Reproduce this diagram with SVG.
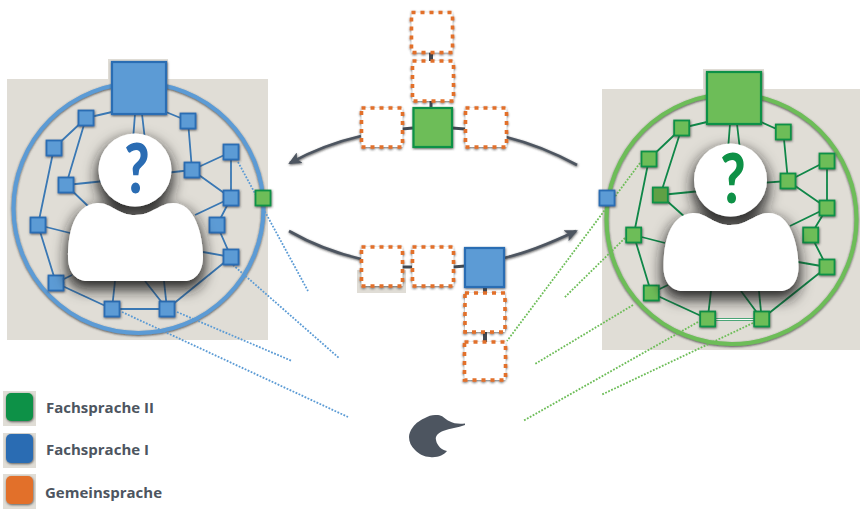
<svg xmlns="http://www.w3.org/2000/svg" width="860" height="509" viewBox="0 0 860 509">
<style>
.bg{fill:#e0ddd6}
.ringB{fill:none;stroke:#5b9bd5;stroke-width:4}
.ringG{fill:none;stroke:#6dbd58;stroke-width:4}
.eB{stroke:#3a78b4;stroke-width:1.8;fill:none}
.eG{stroke:#0f8748;stroke-width:1.8;fill:none}
.dB{stroke:#5b9bd5;stroke-width:1.8;stroke-dasharray:1.8 1.5;fill:none}
.dG{stroke:#6dbd58;stroke-width:1.8;stroke-dasharray:1.8 1.5;fill:none}
.arrow{stroke:#4d5560;stroke-width:2.6;fill:none;filter:url(#ns)}
.link{stroke:#424a54;stroke-width:3;fill:none}
.nB{fill:#5b9bd5;stroke:#2c6db3;stroke-width:1.8;filter:url(#ns)}
.nG{fill:#6dbd58;stroke:#0e9146;stroke-width:1.8;filter:url(#ns)}
.nD{fill:#5fa045;stroke:#0e9146;stroke-width:1.8;filter:url(#ns)}
.lB{fill:#5b9bd5;stroke:#2c6db3;stroke-width:2.2;filter:url(#ns)}
.lG{fill:#6dbd58;stroke:#0e9146;stroke-width:2.2;filter:url(#ns)}
.dash{fill:#fff;stroke:#e2702a;stroke-width:3.6;stroke-dasharray:4 5;filter:url(#ds)}
.person{fill:#fff;filter:url(#ps)}
.q{font-family:Lato,"Liberation Sans",sans-serif;font-weight:900;font-size:68px;text-anchor:middle}
.t{font-family:"Open Sans",sans-serif;font-weight:700;font-size:15px;fill:#4d5560}
</style>
<defs>
<filter id="ns" x="-40%" y="-40%" width="180%" height="180%"><feDropShadow dx="0.5" dy="1" stdDeviation="1" flood-color="#333" flood-opacity=".75"/></filter>
<filter id="ds" x="-40%" y="-40%" width="180%" height="180%"><feDropShadow dx="0" dy="1" stdDeviation="1" flood-color="#333" flood-opacity=".7"/></filter>
<filter id="ps" x="-30%" y="-30%" width="160%" height="160%">
<feMorphology in="SourceAlpha" operator="dilate" radius="2" result="d"/>
<feGaussianBlur in="d" stdDeviation="7" result="b"/>
<feOffset in="b" dy="7" result="o"/>
<feFlood flood-color="#1c1c1c" flood-opacity=".9"/>
<feComposite in2="o" operator="in" result="s"/>
<feMerge><feMergeNode in="s"/><feMergeNode in="SourceGraphic"/></feMerge>
</filter>
<filter id="rs" x="-5%" y="-5%" width="110%" height="110%"><feDropShadow dx="0" dy="1" stdDeviation="1" flood-color="#333" flood-opacity=".8"/></filter>
<marker id="ah" markerUnits="userSpaceOnUse" markerWidth="14" markerHeight="12" refX="11" refY="6" orient="auto"><path d="M0,0 L13,6 L0,12 L3,6 Z" fill="#4d5560"/></marker>
<path id="body" d="M68,257 C68,235 73,205 97,203 C110,202 118,215 135,215 C152,215 160,203 173,203 C195,203 203,235 203,257 C203,272 195,281 185,281 L87,281 C76,281 68,272 68,257 Z"/>
</defs>

<g id="backgrounds">
<rect class="bg" x="7" y="79" width="261" height="261"/>
<rect class="bg" x="108" y="59" width="60" height="22"/>
<rect class="bg" x="602" y="89" width="258" height="261"/>
<rect class="bg" x="703" y="69" width="61" height="22"/>
<rect class="bg" x="357" y="270" width="49" height="23"/>
<circle class="ringB" cx="138.500" cy="208" r="125" filter="url(#rs)"/>
<circle class="ringG" cx="731.500" cy="219" r="125" filter="url(#rs)"/>
</g>

<g id="connectors">
<g id="edges-left" class="eB">
<path d="M135,114 L133,140 M142,114 L145,140 M112,112 L86,118 M166,112 L188,121 M86,118 L54,148 M86,118 L66,185 M188,121 L192,170 M54,148 L38,225 M66,185 L105,181 M66,185 L90,208 M192,170 L165,173 M192,170 L231,152 M192,170 L231,198 M231,152 L231,198 M231,198 L195,215 M231,198 L217,225 M217,225 L231,257 M231,257 L203,252 M231,257 L167,309 M38,225 L70,233 M38,225 L56,283 M56,283 L72,275 M56,283 L112,309 M112,309 L167,309 M112,309 L115,281 M167,309 L145,281 M167,309 L164,281"/>
</g>
<g id="edges-right" class="eG">
<path d="M730,124 L728,150 M737,124 L740,150 M707,122 L681.700,128 M761,122 L783.300,132 M681.700,128 L649,159 M681.700,128 L660.300,195 M783.300,132 L788,181 M649,159 L633.700,235 M660.300,195 L701,191 M660.300,195 L686,218 M788,181 L760,183 M788,181 L827,161 M788,181 L827,208 M827,161 L827,208 M827,208 L790,226 M827,208 L810.700,235 M810.700,235 L827,267 M827,267 L798,262 M827,267 L761.700,319 M633.700,235 L665,243 M633.700,235 L651.300,293 M651.300,293 L668,285 M651.300,293 L707.700,319 M707.700,319 L711,291 M761.700,319 L741,291 M761.700,319 L759,291"/>
<path d="M707.700,319.500 L761.700,319.500" stroke-width="3"/>
<path d="M707.700,319.500 L761.700,319.500" stroke="#fff" stroke-width="1.500"/>
</g>
<g id="dotted-left" class="dB">
<path d="M238,162 L308,291"/>
<path d="M233,265 L339,358"/>
<path d="M177,312 L292,361"/>
<path d="M122,312 L348,417"/>
</g>
<g id="dotted-right" class="dG">
<path d="M640,163 L507,341"/>
<path d="M625,238 L564,298"/>
<path d="M633,305 L535,364"/>
<path d="M698,322 L523,421"/>
<path d="M753,323 L601,395"/>
</g>
<g id="links">
<path class="link" style="stroke-width:4" d="M431,52 L431,61"/>
<path class="link" d="M431,101 L431,108 M402,129 L413,128 M452,128 L465,129 M402,267 L412,267 M453,267 L465,266"/>
<path class="link" style="stroke-width:4" d="M485,287 L485,293 M485,332 L485,342"/>
</g>
<g id="arrows" class="arrow">
<path d="M361,136 C335,142 310,152 290,163" marker-end="url(#ah)"/>
<path d="M506,137 C530,143 555,153 577,165"/>
<path d="M289,231 C310,243 335,253 361,259"/>
<path d="M504,258 C530,252 555,241 576,231" marker-end="url(#ah)"/>
</g>
</g>

<g id="left-big"><rect class="lB" x="112" y="62" width="54" height="52"/></g>
<g id="left-a"><rect class="nB" x="78.500" y="110.500" width="15" height="15"/></g>
<g id="left-b"><rect class="nB" x="180.500" y="113.500" width="15" height="15"/></g>
<g id="left-c"><rect class="nB" x="46.500" y="140.500" width="15" height="15"/></g>
<g id="left-d"><rect class="nB" x="223.500" y="144.500" width="15" height="15"/></g>
<g id="left-e"><rect class="nB" x="58.500" y="177.500" width="15" height="15"/></g>
<g id="left-f"><rect class="nB" x="184.500" y="162.500" width="15" height="15"/></g>
<g id="left-g"><rect class="nB" x="223.500" y="190.500" width="15" height="15"/></g>
<g id="left-h"><rect class="nB" x="209.500" y="217.500" width="15" height="15"/></g>
<g id="left-i"><rect class="nB" x="30.500" y="217.500" width="15" height="15"/></g>
<g id="left-j"><rect class="nB" x="223.500" y="249.500" width="15" height="15"/></g>
<g id="left-k"><rect class="nB" x="48.500" y="275.500" width="15" height="15"/></g>
<g id="left-l"><rect class="nB" x="104.500" y="301.500" width="15" height="15"/></g>
<g id="left-m"><rect class="nB" x="159.500" y="301.500" width="15" height="15"/></g>
<g id="left-foreign"><rect class="nG" x="255.500" y="190.500" width="15" height="15"/></g>
<g id="left-person">
<g class="person"><use href="#body"/><circle cx="135" cy="170" r="36.500"/></g>
<text class="q" transform="translate(137 193) scale(.8 1)" fill="#2a6cb3">?</text>
</g>

<g id="right-big"><rect class="lG" x="707" y="72" width="54" height="52"/></g>
<g id="right-a"><rect class="nG" x="674.200" y="120.500" width="15" height="15"/></g>
<g id="right-b"><rect class="nG" x="775.800" y="124.500" width="15" height="15"/></g>
<g id="right-c"><rect class="nG" x="641.500" y="151.500" width="15" height="15"/></g>
<g id="right-d"><rect class="nG" x="819.500" y="153.500" width="15" height="15"/></g>
<g id="right-e"><rect class="nD" x="652.800" y="187.500" width="15" height="15"/></g>
<g id="right-f"><rect class="nG" x="780.500" y="173.500" width="15" height="15"/></g>
<g id="right-g"><rect class="nG" x="819.500" y="200.500" width="15" height="15"/></g>
<g id="right-h"><rect class="nG" x="803.200" y="227.500" width="15" height="15"/></g>
<g id="right-i"><rect class="nG" x="626.200" y="227.500" width="15" height="15"/></g>
<g id="right-j"><rect class="nG" x="819.500" y="259.500" width="15" height="15"/></g>
<g id="right-k"><rect class="nG" x="643.800" y="285.500" width="15" height="15"/></g>
<g id="right-l"><rect class="nG" x="700.200" y="311.500" width="15" height="15"/></g>
<g id="right-m"><rect class="nG" x="754.200" y="311.500" width="15" height="15"/></g>
<g id="right-foreign"><rect class="nB" x="599.500" y="190.500" width="15" height="15"/></g>
<g id="right-person">
<g class="person"><use href="#body" transform="translate(595.500 10)"/><circle cx="730.500" cy="180" r="36.500"/></g>
<text class="q" transform="translate(733 203) scale(.8 1)" fill="#0e9146">?</text>
</g>

<g id="top-1"><rect class="dash" x="411.500" y="12.500" width="41" height="40"/></g>
<g id="top-2"><rect class="dash" x="412.500" y="61" width="41" height="40"/></g>
<g id="top-center"><rect class="lG" x="413.500" y="108" width="38.500" height="39"/></g>
<g id="top-left"><rect class="dash" x="361.500" y="108" width="41" height="39"/></g>
<g id="top-right"><rect class="dash" x="465.500" y="108" width="41" height="39"/></g>

<g id="bottom-1"><rect class="dash" x="361.500" y="247" width="41" height="39"/></g>
<g id="bottom-2"><rect class="dash" x="412.500" y="247" width="41" height="39"/></g>
<g id="bottom-center"><rect class="lB" x="465" y="248" width="39" height="39"/></g>
<g id="bottom-3"><rect class="dash" x="465" y="293" width="40" height="39"/></g>
<g id="bottom-4"><rect class="dash" x="464.500" y="342" width="41" height="38"/></g>

<g id="bird">
<path d="M465,423.500 L465,425 C458,428 450,428 443,431 C438,433 435,436 436,440 C437,446 442,450 447,451 C444,455 437,458 430,457 C424,457 419,454 415,450 C411,446 409,442 409,437 C409,434 410,431 413,427 C416,423 420,420 427,417 C431,415 434,415 438,415 C442,415 445,419 449,421 C454,424 460,424 465,423.500 Z" fill="#4d5560"/>
</g>

<g id="legend-1"><rect class="bg" x="3" y="391" width="33" height="35"/><rect x="6" y="393" width="27" height="28" rx="5" fill="#0e9146" filter="url(#ns)"/><text class="t" x="46" y="413">Fachsprache II</text></g>
<g id="legend-2"><rect class="bg" x="3" y="433" width="33" height="35"/><rect x="6" y="434" width="27" height="29" rx="5" fill="#2a6cb3" filter="url(#ns)"/><text class="t" x="46" y="455">Fachsprache I</text></g>
<g id="legend-3"><rect class="bg" x="3" y="474" width="33" height="35"/><rect x="6" y="476" width="27" height="28" rx="5" fill="#e2702a" filter="url(#ns)"/><text class="t" x="45" y="498">Gemeinsprache</text></g>
</svg>
